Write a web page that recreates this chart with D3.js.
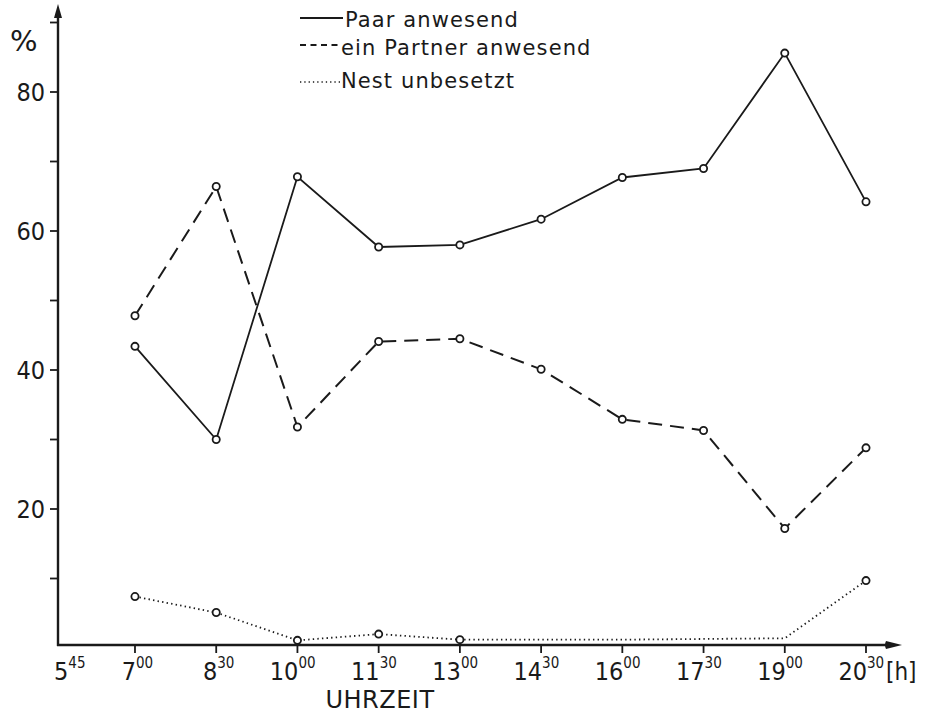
<!DOCTYPE html>
<html>
<head>
<meta charset="utf-8">
<script src="https://cdn.jsdelivr.net/npm/d3@7"></script>
<style>
  body { margin: 0; background: #fff; }
  text { font-family: "DejaVu Sans", sans-serif; fill: #1a1a1a; }
  .num { font-family: "DejaVu Sans Condensed", "DejaVu Sans", sans-serif; }
</style>
</head>
<body>
<svg id="chart"></svg>
<script>
// Zeitpunkte (Minuten ab 0:00) und Beschriftungen
const times = [420, 510, 600, 690, 780, 870, 960, 1050, 1140, 1230],
hourLabels = [['5','45'],['7','00'],['8','30'],['10','00'],['11','30'],['13','00'],['14','30'],['16','00'],['17','30'],['19','00'],['20','30']],
labelTimes = [345, 420, 510, 600, 690, 780, 870, 960, 1050, 1140, 1230],
paar = [43.4, 30.0, 67.8, 57.7, 58.0, 61.7, 67.7, 69.0, 85.6, 64.2],
partner = [47.8, 66.4, 31.8, 44.1, 44.5, 40.1, 32.9, 31.3, 17.2, 28.8],
nest = [7.4, 5.1, 1.1, 2.0, 1.2, 1.2, 1.2, 1.3, 1.4, 9.7],
nestMarked = [true, true, true, true, true, false, false, false, false, true],
yTicks = [10, 20, 30, 40, 50, 60, 70, 80, 90],
yLabels = [20, 40, 60, 80],
legend = ['Paar anwesend', 'ein Partner anwesend', 'Nest unbesetzt'],
width = 927,
height = 713,
ink = '#1a1a1a';

const svg = d3.select('#chart')
.attr('width', width)
.attr('height', height);

const x = d3.scaleLinear()
.domain([345, 1230])
.range([67.3, 866]);

const y = d3.scaleLinear()
.domain([0, 90])
.range([648, 22.5]);

const axisY = 645, axisX = 58;

// Achsen
svg.append('line')
.attr('x1', axisX).attr('x2', axisX)
.attr('y1', axisY + 1).attr('y2', 16)
.attr('stroke', ink).attr('stroke-width', 2.4);

svg.append('path')
.attr('d', `M${axisX},4 L${axisX - 4},18 L${axisX + 4},18 Z`)
.attr('fill', ink);

svg.append('line')
.attr('x1', axisX - 1).attr('x2', 890)
.attr('y1', axisY).attr('y2', axisY)
.attr('stroke', ink).attr('stroke-width', 2.4);

svg.append('path')
.attr('d', `M902,${axisY} L886,${axisY - 4} Q884,${axisY} 886,${axisY + 4} Z`)
.attr('fill', ink);

svg.append('g')
.selectAll('line')
.data(yTicks)
.enter().append('line')
.attr('x1', axisX - 8).attr('x2', axisX)
.attr('y1', (d) => y(d)).attr('y2', (d) => y(d))
.attr('stroke', ink).attr('stroke-width', 1.8);

svg.append('g')
.selectAll('text')
.data(yLabels)
.enter().append('text')
.attr('class', 'num')
.attr('x', 45)
.attr('y', (d) => y(d) + 9)
.attr('text-anchor', 'end')
.attr('font-size', 25)
.text((d) => d);

svg.append('text')
.attr('x', 10).attr('y', 51)
.attr('font-size', 29)
.text('%');

svg.append('g')
.selectAll('line')
.data(times)
.enter().append('line')
.attr('x1', (d) => x(d)).attr('x2', (d) => x(d))
.attr('y1', axisY).attr('y2', axisY + 8)
.attr('stroke', ink).attr('stroke-width', 1.8);

const hl = svg.append('g')
.selectAll('g')
.data(hourLabels)
.enter().append('g');

hl.append('text')
.attr('class', 'num')
.attr('x', (d, i) => x(labelTimes[i]) + 1)
.attr('y', 680)
.attr('text-anchor', 'end')
.attr('font-size', 25)
.text((d) => d[0]);

hl.append('text')
.attr('class', 'num')
.attr('x', (d, i) => x(labelTimes[i]) + 1)
.attr('y', 668)
.attr('font-size', 15)
.text((d) => d[1]);

svg.append('text')
.attr('class', 'num')
.attr('x', 886).attr('y', 680)
.attr('font-size', 24)
.text('[h]');

svg.append('text')
.attr('x', 380).attr('y', 708)
.attr('text-anchor', 'middle')
.attr('font-size', 24)
.attr('letter-spacing', 0.5)
.text('UHRZEIT');

// Kurven
const line = d3.line()
.x((d, i) => x(times[i]))
.y((d) => y(d));

const series = [
  {values: paar, dash: null, width: 1.8, marked: paar.map(() => true)},
  {values: partner, dash: '14,8', width: 2, marked: partner.map(() => true)},
  {values: nest, dash: '1.4,3.2', width: 1.8, marked: nestMarked}
];

series.forEach((s) => {
  svg.append('path')
    .datum(s.values)
    .attr('d', line)
    .attr('fill', 'none')
    .attr('stroke', ink)
    .attr('stroke-width', s.width)
    .attr('stroke-dasharray', s.dash);

  svg.append('g')
    .selectAll('circle')
    .data(s.values.map((v, i) => ({v, i})).filter((d) => s.marked[d.i]))
    .enter().append('circle')
    .attr('cx', (d) => x(times[d.i]))
    .attr('cy', (d) => y(d.v))
    .attr('r', 3.6)
    .attr('fill', '#fff')
    .attr('stroke', ink)
    .attr('stroke-width', 1.8);
});

// Legende
const lg = svg.append('g')
.selectAll('g')
.data(legend)
.enter().append('g');

lg.append('line')
.attr('x1', 300).attr('x2', (d, i) => i === 0 ? 343 : 340)
.attr('y1', (d, i) => [18, 45, 82][i]).attr('y2', (d, i) => [18, 45, 82][i])
.attr('stroke', ink)
.attr('stroke-width', (d, i) => i === 2 ? 1.6 : 2)
.attr('stroke-dasharray', (d, i) => [null, '6,4.5', '1.3,3'][i]);

lg.append('text')
.attr('x', (d, i) => i === 0 ? 345 : 341)
.attr('y', (d, i) => [27, 55, 88][i])
.attr('font-size', 21)
.attr('letter-spacing', 1.1)
.text((d) => d);
</script>
</body>
</html>
